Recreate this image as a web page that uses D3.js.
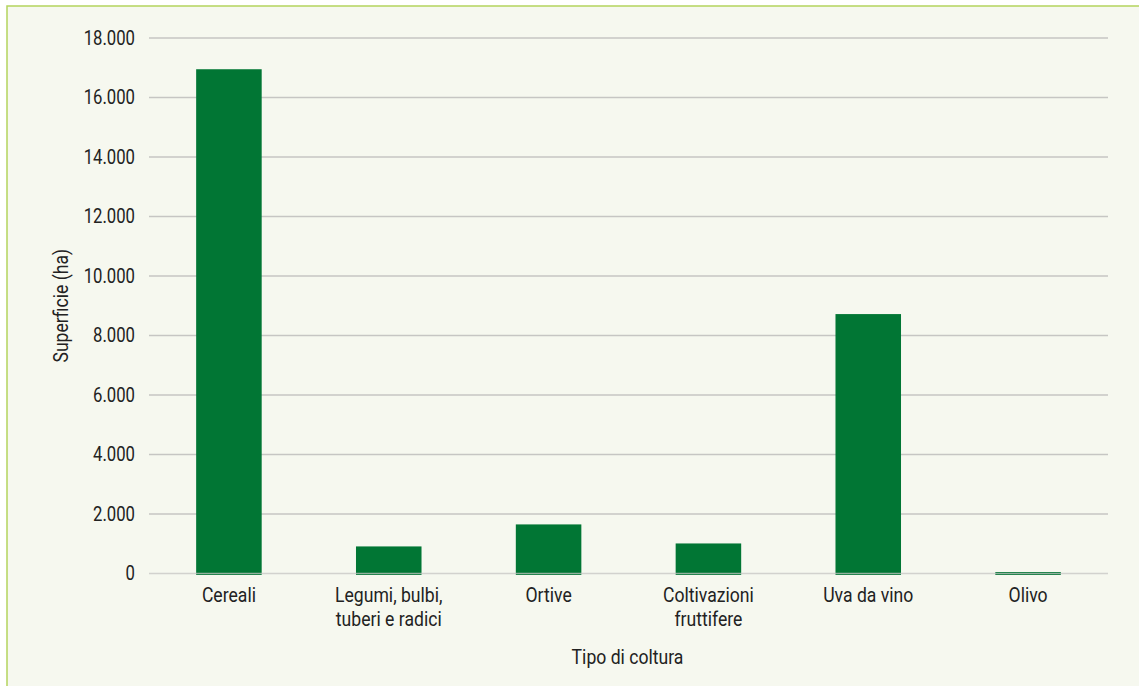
<!DOCTYPE html>
<html>
<head>
<meta charset="utf-8">
<script src="https://cdn.jsdelivr.net/npm/d3@7"></script>
<style>
  html, body { margin: 0; padding: 0; background: #ffffff; }
  svg { display: block; }
  text { font-family: Roboto, "Noto Sans", sans-serif; fill: #222; }
</style>
</head>
<body>
<svg id="chart" width="1139" height="686"></svg>
<script>
// Superficie per tipo di coltura (ha)
const categories = [
  ["Cereali"],
  ["Legumi, bulbi,", "tuberi e radici"],
  ["Ortive"],
  ["Coltivazioni", "fruttifere"],
  ["Uva da vino"],
  ["Olivo"]
];
const values = [16950, 910, 1650, 1010, 8720, 50];
const yTicks = [0, 2000, 4000, 6000, 8000, 10000, 12000, 14000, 16000, 18000];

const W = 1139, H = 686;
const margin = { top: 38, right: 31, bottom: 112.5, left: 149 };
const innerW = W - margin.left - margin.right;
const innerH = H - margin.top - margin.bottom;

const FS = 20;        // label font size
const SX = 0.88;      // horizontal squeeze for a condensed look

const it = d3.formatLocale({ decimal: ",", thousands: ".", grouping: [3], currency: ["€", ""] });
const fmt = it.format(",.0f");

const svg = d3.select("#chart");

// panel background with the green frame on the left and top
svg.append("rect").attr("x", 0).attr("y", 0).attr("width", W).attr("height", H).attr("fill", "#ffffff");
svg.append("rect").attr("x", 7).attr("y", 6).attr("width", W).attr("height", H)
  .attr("fill", "#f6f8ef").attr("stroke", "#b4d45e").attr("stroke-width", 1.5);

const g = svg.append("g").attr("transform", `translate(${margin.left},${margin.top})`);

const x = d3.scaleBand().domain(d3.range(categories.length)).range([0, innerW]).paddingInner(0.59).paddingOuter(0.295);
const y = d3.scaleLinear().domain([0, 18000]).range([innerH, 0]);

// horizontal gridlines
g.append("g").selectAll("line").data(yTicks.filter(d => d > 0)).join("line")
  .attr("x1", 0).attr("x2", innerW)
  .attr("y1", d => y(d)).attr("y2", d => y(d))
  .attr("stroke", "#c6c6c3").attr("stroke-width", 1.3);

// bars
g.append("g").selectAll("rect").data(values).join("rect")
  .attr("x", (d, i) => x(i))
  .attr("y", d => y(d))
  .attr("width", x.bandwidth())
  .attr("height", d => y(0) - y(d) + 1.5)
  .attr("fill", "#017634");

// baseline over the bars
g.append("line").attr("x1", 0).attr("x2", innerW).attr("y1", y(0)).attr("y2", y(0))
  .attr("stroke", "#c6c6c3").attr("stroke-width", 1.3).attr("stroke-opacity", 0.75);

// y axis: generated by d3.axisLeft, then labels squeezed horizontally
const yAxis = d3.axisLeft(y).tickValues(yTicks).tickFormat(fmt).tickSize(0).tickPadding(0);
const ya = g.append("g").call(yAxis);
ya.select(".domain").remove();
ya.selectAll(".tick text")
  .attr("font-size", FS).attr("fill", "#222")
  .attr("font-family", "Roboto, 'Noto Sans', sans-serif")
  .attr("x", 0)
  .attr("transform", `translate(-14,0) scale(${SX * 0.95},1)`);

// x axis labels (wrapped)
const xl = g.append("g").selectAll("text").data(categories).join("text")
  .attr("text-anchor", "middle")
  .attr("font-size", FS)
  .attr("transform", (d, i) => `translate(${x(i) + x.bandwidth() / 2},${innerH + 28.5}) scale(${SX},1)`);
xl.selectAll("tspan").data(d => d).join("tspan")
  .attr("x", 0).attr("y", (d, j) => j * 24.5).text(d => d);

// axis titles
g.append("text").attr("text-anchor", "middle").attr("font-size", FS)
  .attr("transform", `translate(${innerW / 2 - 1},${innerH + 90}) scale(${SX},1)`).text("Tipo di coltura");
g.append("text").attr("text-anchor", "middle").attr("font-size", FS)
  .attr("transform", `translate(${-81},${innerH / 2}) rotate(-90) scale(${SX},1)`).text("Superficie (ha)");
</script>
</body>
</html>
